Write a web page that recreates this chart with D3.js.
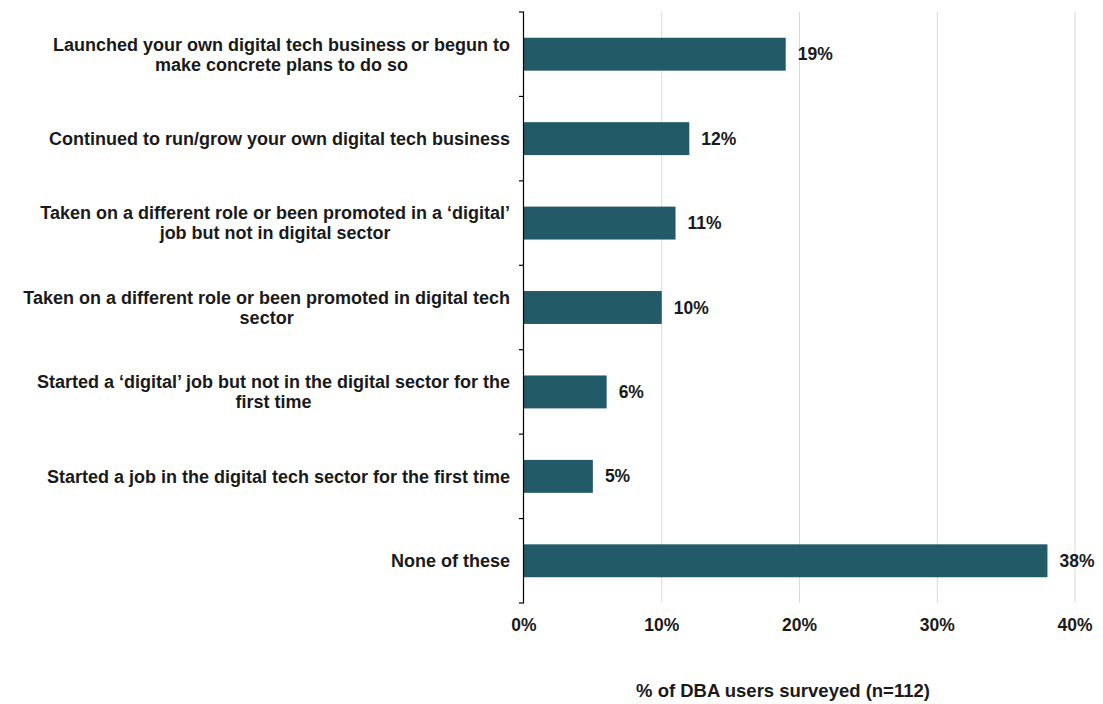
<!DOCTYPE html>
<html>
<head>
<meta charset="utf-8">
<script src="https://cdn.jsdelivr.net/npm/d3@7"></script>
<style>
  html, body { margin: 0; padding: 0; background: #ffffff; }
  svg { display: block; font-family: "Liberation Sans", Arial, sans-serif; }
</style>
</head>
<body>
<svg id="chart" width="1103" height="704"></svg>
<script>
// Category labels (each entry is the list of wrapped lines)
const categories = [
  ["Launched your own digital tech business or begun to", "make concrete plans to do so"],
  ["Continued to run/grow your own digital tech business"],
  ["Taken on a different role or been promoted in a \u2018digital\u2019", "job but not in digital sector"],
  ["Taken on a different role or been promoted in digital tech", "sector"],
  ["Started a \u2018digital\u2019 job but not in the digital sector for the", "first time"],
  ["Started a job in the digital tech sector for the first time"],
  ["None of these"]
];
// Share of respondents (%)
const values = [19, 12, 11, 10, 6, 5, 38];
const xTicks = [0, 10, 20, 30, 40];
const xTitle = "% of DBA users surveyed (n=112)";

const svg = d3.select("#chart");
const margin = { left: 524, right: 28, top: 12, bottom: 101 };
const W = 1103, H = 704;
const catSize = 18, titleSize = 18.5, numSize = 17.5;

const x = d3.scaleLinear().domain([0, 40]).range([margin.left, W - margin.right]);
const y = d3.scaleBand()
  .domain(d3.range(categories.length))
  .range([margin.top, H - margin.bottom])
  .paddingInner(0.61)
  .paddingOuter(0.305);

// vertical gridlines
svg.append("g")
  .selectAll("line")
  .data(xTicks.filter(t => t > 0))
  .join("line")
  .attr("x1", d => x(d)).attr("x2", d => x(d))
  .attr("y1", margin.top).attr("y2", H - margin.bottom)
  .attr("stroke", "#d9d9d9").attr("stroke-width", 1);

// bars
svg.append("g")
  .selectAll("rect")
  .data(values)
  .join("rect")
  .attr("x", x(0))
  .attr("y", (d, i) => y(i))
  .attr("width", d => x(d) - x(0))
  .attr("height", y.bandwidth())
  .attr("fill", "#235a68");

// value labels
svg.append("g")
  .selectAll("text")
  .data(values)
  .join("text")
  .attr("x", d => x(d) + 12)
  .attr("y", (d, i) => y(i) + y.bandwidth() / 2)
  .attr("dy", "0.35em")
  .attr("font-size", numSize).attr("font-weight", "bold").attr("fill", "#1a1a1a")
  .text(d => d + "%");

// category axis line with outward ticks at band boundaries
const yAxisG = svg.append("g");
yAxisG.append("line")
  .attr("x1", x(0) - 0.5).attr("x2", x(0) - 0.5)
  .attr("y1", margin.top).attr("y2", H - margin.bottom)
  .attr("stroke", "#000").attr("stroke-width", 1.2);
const step = y.step();
const bounds = d3.range(categories.length + 1).map(i => margin.top + i * step);
yAxisG.selectAll("line.tick")
  .data(bounds)
  .join("line")
  .attr("class", "tick")
  .attr("x1", x(0) - 5).attr("x2", x(0))
  .attr("y1", d => d).attr("y2", d => d)
  .attr("stroke", "#000").attr("stroke-width", 1.2);

// category labels: block right-aligned, lines centred within the block
const labelRight = 510;
const lineH = 20;
const catG = svg.append("g").attr("font-size", catSize).attr("font-weight", "bold").attr("fill", "#1a1a1a");
categories.forEach((lines, i) => {
  const t = catG.append("text").attr("text-anchor", "middle");
  const cy = y(i) + y.bandwidth() / 2;
  const spans = lines.map((ln, k) =>
    t.append("tspan").attr("y", cy + (k - (lines.length - 1) / 2) * lineH).attr("dy", "0.35em").text(ln));
  const widths = spans.map(s => s.node().getComputedTextLength());
  const wMax = d3.max(widths);
  const cx = labelRight - wMax / 2;
  spans.forEach(s => s.attr("x", cx));
});

// x tick labels
svg.append("g")
  .selectAll("text")
  .data(xTicks)
  .join("text")
  .attr("x", d => x(d))
  .attr("y", 631)
  .attr("text-anchor", "middle")
  .attr("font-size", numSize).attr("font-weight", "bold").attr("fill", "#1a1a1a")
  .text(d => d + "%");

// x axis title
svg.append("text")
  .attr("x", 783).attr("y", 697)
  .attr("text-anchor", "middle")
  .attr("font-size", titleSize).attr("font-weight", "bold").attr("fill", "#1a1a1a")
  .text(xTitle);
</script>
</body>
</html>
